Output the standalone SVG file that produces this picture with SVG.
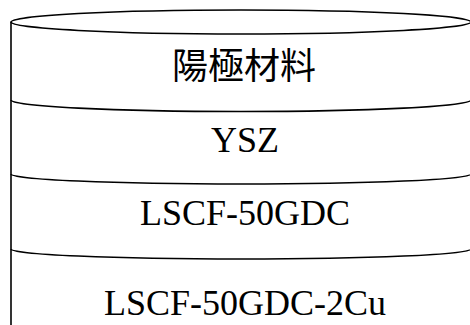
<svg xmlns="http://www.w3.org/2000/svg" width="470" height="325" viewBox="0 0 470 325">
<style>
.s{fill:none;stroke:#000;stroke-width:1.6}
.t{font-family:"Liberation Serif","Noto Sans CJK TC",serif;font-size:36px;fill:#000;text-anchor:middle}
</style>
<rect width="470" height="325" fill="#fff"/>
<g id="cylinder">
<ellipse class="s" cx="241" cy="22" rx="230" ry="12"/>
<line class="s" x1="11" y1="22" x2="11" y2="326"/>
<line class="s" x1="471" y1="22" x2="471" y2="326"/>
</g>
<g id="connectors">
<path class="s" d="M11,100 A230,11.5 0 0 0 471,100"/>
<path class="s" d="M11,174 A230,10 0 0 0 471,174"/>
<path class="s" d="M11,249 A230,10 0 0 0 471,249"/>
</g>
<g id="layer1"><text class="t" x="244" y="79" font-size="33">陽極材料</text></g>
<g id="layer2"><text class="t" x="245" y="152">YSZ</text></g>
<g id="layer3"><text class="t" x="245" y="225">LSCF-50GDC</text></g>
<g id="layer4"><text class="t" x="245" y="315">LSCF-50GDC-2Cu</text></g>
</svg>
